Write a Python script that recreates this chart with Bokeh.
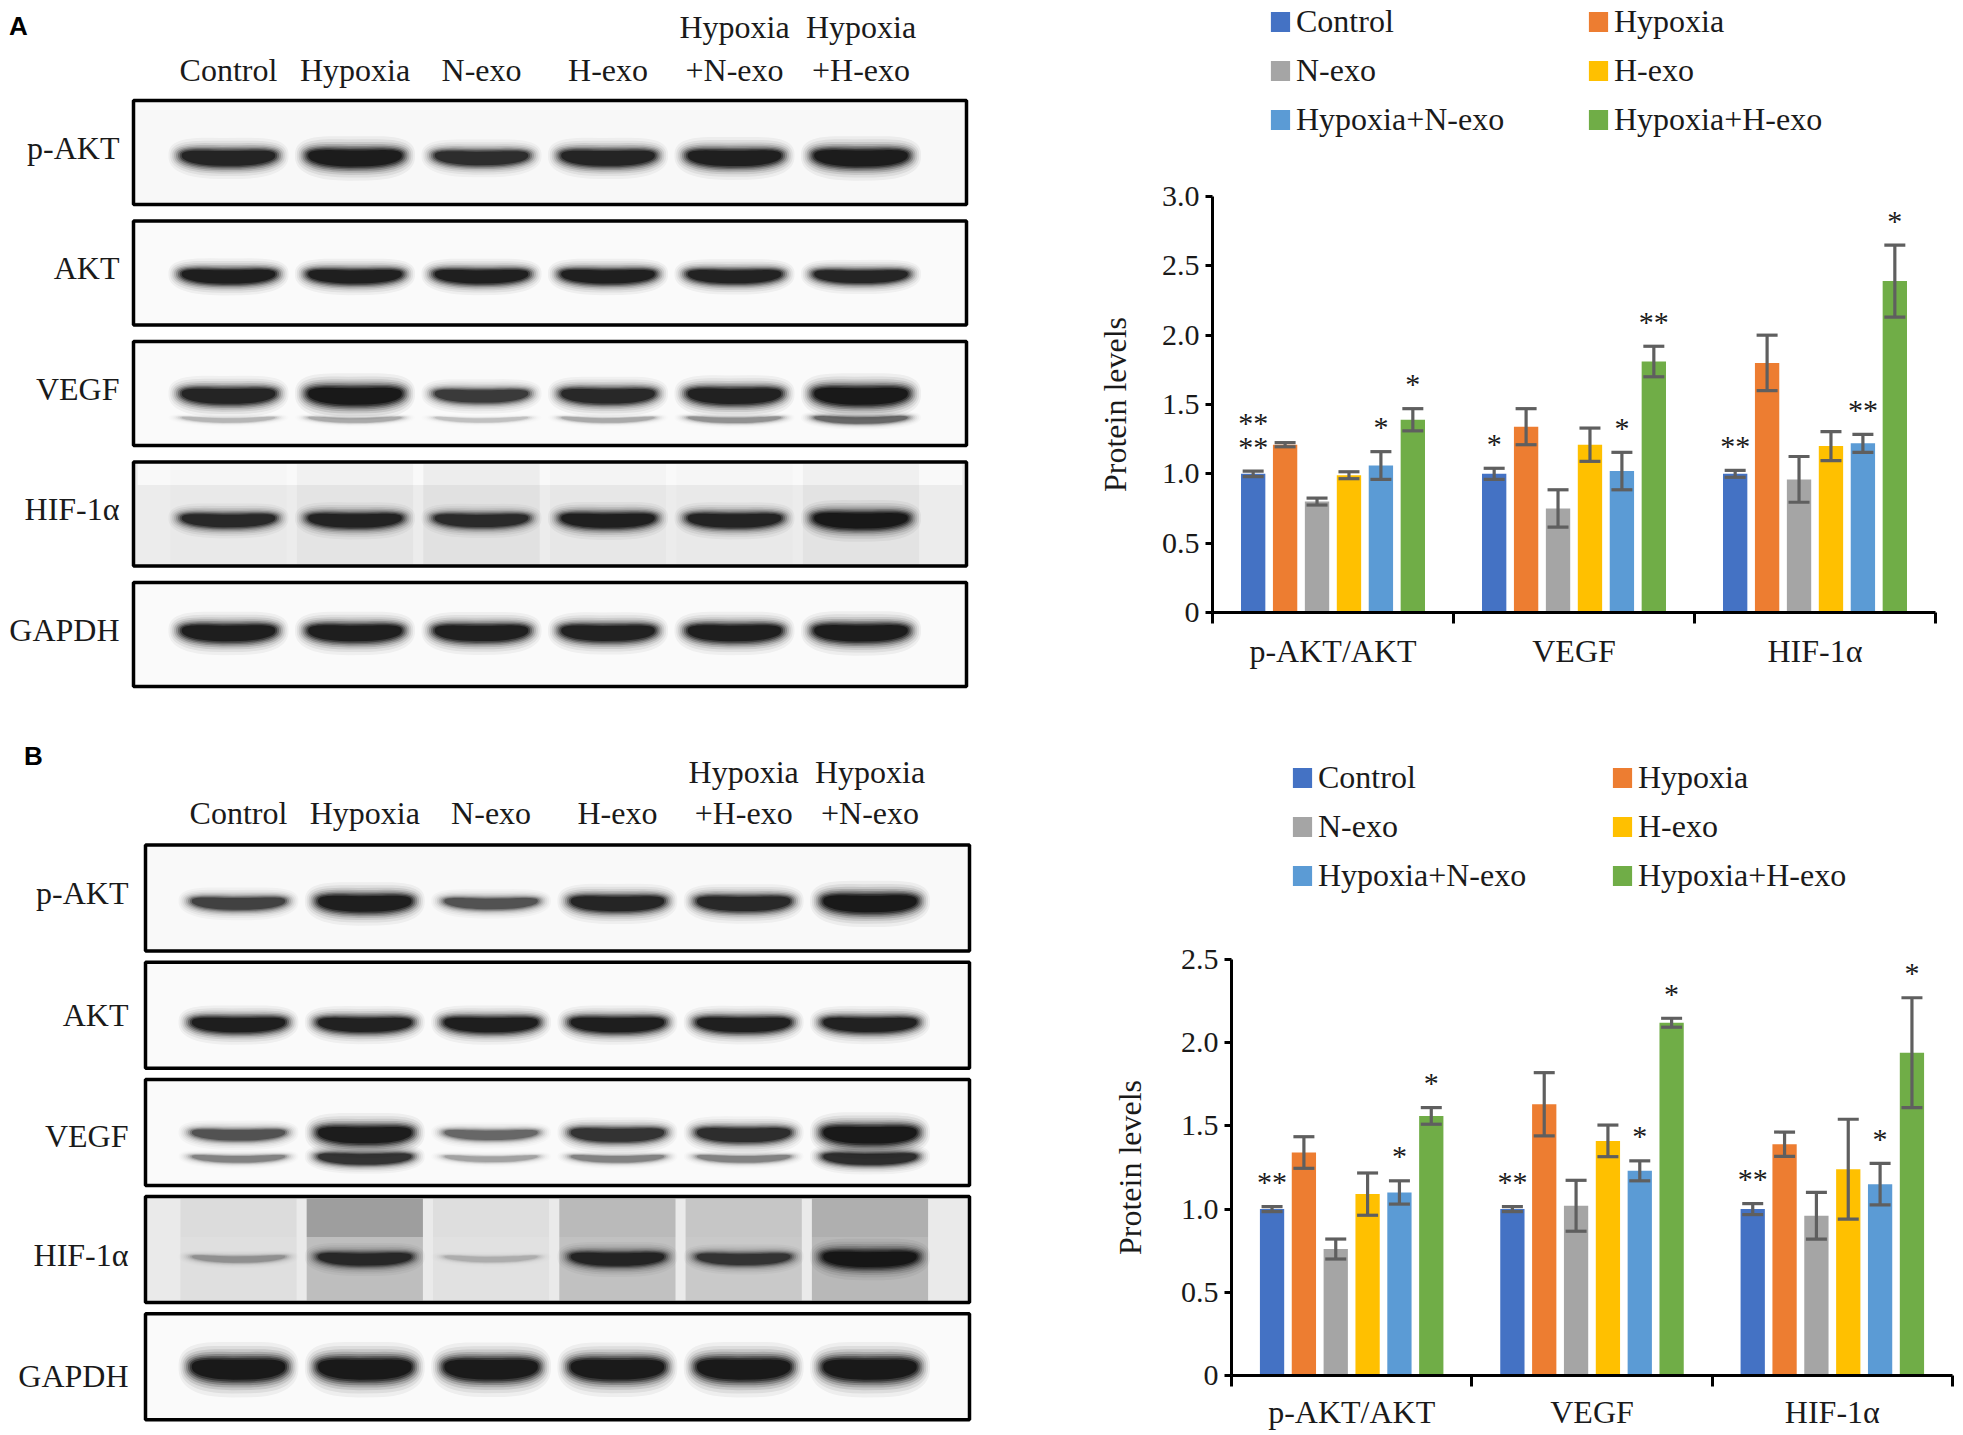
import numpy as np
from bokeh.plotting import figure
from bokeh.models import Range1d, FixedTicker, Legend, LegendItem, ColumnDataSource, Whisker, TeeHead
from bokeh.layouts import row, column
from bokeh.embed import file_html
from bokeh.resources import INLINE
from bokeh.core.properties import value

SERIF = "Liberation Serif"
SANS = "Liberation Sans"

# ---------------- data ----------------
groups = ["Control", "Hypoxia", "N-exo", "H-exo", "Hypoxia+N-exo", "Hypoxia+H-exo"]
group_colors = ["#4472C4", "#ED7D31", "#A5A5A5", "#FFC000", "#5B9BD5", "#70AD47"]
categories = ["p-AKT/AKT", "VEGF", "HIF-1α"]

# Panel A quantification
a_control = [1.00, 1.00, 1.00]
a_hypoxia = [1.21, 1.34, 1.80]
a_nexo = [0.80, 0.75, 0.96]
a_hexo = [0.99, 1.21, 1.20]
a_hyp_nexo = [1.06, 1.02, 1.22]
a_hyp_hexo = [1.39, 1.81, 2.39]
a_control_err = [0.02, 0.04, 0.025]
a_hypoxia_err = [0.015, 0.13, 0.20]
a_nexo_err = [0.025, 0.135, 0.165]
a_hexo_err = [0.025, 0.12, 0.105]
a_hyp_nexo_err = [0.10, 0.135, 0.065]
a_hyp_hexo_err = [0.08, 0.11, 0.26]
a_control_sig = ["**\n**", "*", "**"]
a_hyp_nexo_sig = ["*", "*", "**"]
a_hyp_hexo_sig = ["*", "**", "*"]
a_y_ticks = [0, 0.5, 1.0, 1.5, 2.0, 2.5, 3.0]
a_y_tick_labels = ["0", "0.5", "1.0", "1.5", "2.0", "2.5", "3.0"]

# Panel B quantification
b_control = [1.00, 1.00, 1.00]
b_hypoxia = [1.34, 1.63, 1.39]
b_nexo = [0.76, 1.02, 0.96]
b_hexo = [1.09, 1.41, 1.24]
b_hyp_nexo = [1.10, 1.23, 1.15]
b_hyp_hexo = [1.56, 2.12, 1.94]
b_control_err = [0.015, 0.015, 0.033]
b_hypoxia_err = [0.095, 0.19, 0.073]
b_nexo_err = [0.06, 0.153, 0.14]
b_hexo_err = [0.127, 0.095, 0.30]
b_hyp_nexo_err = [0.07, 0.06, 0.125]
b_hyp_hexo_err = [0.05, 0.027, 0.33]
b_control_sig = ["**", "**", "**"]
b_hyp_nexo_sig = ["*", "*", "*"]
b_hyp_hexo_sig = ["*", "*", "*"]
b_y_ticks = [0, 0.5, 1.0, 1.5, 2.0, 2.5]
b_y_tick_labels = ["0", "0.5", "1.0", "1.5", "2.0", "2.5"]

# Western blots: band density per lane (0 = none, 1 = saturated)
blot_rows = ["p-AKT", "AKT", "VEGF", "HIF-1α", "GAPDH"]
a_lanes = ["Control", "Hypoxia", "N-exo", "H-exo", "Hypoxia\n+N-exo", "Hypoxia\n+H-exo"]
b_lanes = ["Control", "Hypoxia", "N-exo", "H-exo", "Hypoxia\n+H-exo", "Hypoxia\n+N-exo"]

a_pakt = [0.85, 0.95, 0.75, 0.85, 0.90, 0.95]
a_akt = [0.92, 0.90, 0.90, 0.90, 0.86, 0.82]
a_vegf = [0.85, 1.00, 0.65, 0.80, 0.88, 1.00]
a_vegf_lower = [0.15, 0.18, 0.12, 0.18, 0.25, 0.40]
a_hif = [0.78, 0.85, 0.75, 0.88, 0.85, 1.00]
a_hif_smear = [0.02, 0.06, 0.10, 0.04, 0.02, 0.08]
a_hif_smear_top = [0.0, 0.0, 0.0, 0.0, 0.0, 0.0]
a_gapdh = [0.92, 0.92, 0.90, 0.88, 0.92, 0.95]

b_pakt = [0.60, 0.92, 0.50, 0.82, 0.80, 1.00]
b_akt = [0.92, 0.88, 0.92, 0.92, 0.90, 0.88]
b_vegf = [0.50, 0.95, 0.40, 0.70, 0.75, 1.00]
b_vegf_lower = [0.30, 0.70, 0.20, 0.30, 0.30, 0.75]
b_hif = [0.20, 0.72, 0.12, 0.78, 0.62, 1.00]
b_hif_smear = [0.10, 0.40, 0.08, 0.38, 0.30, 0.45]
b_hif_smear_top = [0.02, 0.35, 0.02, 0.06, 0.02, 0.10]
b_gapdh = [1.00, 1.00, 0.98, 0.98, 1.00, 1.00]

ERR_COLOR = "#5f5f5f"
TEXT_COLOR = "#1a1a1a"
INK = "#0e0e0e"

# band blur layers: (width in lanes, height factor, opacity factor)
LAYERS = [(0.95, 2.1, 0.05), (0.92, 1.8, 0.07), (0.89, 1.55, 0.10), (0.86, 1.35, 0.15),
          (0.83, 1.18, 0.22), (0.80, 1.03, 0.30), (0.77, 0.9, 0.45), (0.74, 0.75, 0.70)]
_T = np.linspace(0, 2 * np.pi, 60)
_UX = np.sign(np.cos(_T)) * np.abs(np.cos(_T)) ** 0.6
_UY = np.sign(np.sin(_T)) * np.abs(np.sin(_T)) ** 0.8


def gray(v):
    v = int(round(v))
    return "#%02x%02x%02x" % (v, v, v)


def base_fig(W, H, **kw):
    p = figure(width=W, height=H, output_backend="svg", toolbar_location=None,
               frame_align=False, **kw)
    p.grid.visible = False
    p.outline_line_color = None
    return p


def blot_panel(W, H, lane0, lane_px, row0, row_px, box_l, box_r, box_h, lanes, bands,
               row_bg, smears, top_strip, letter, letter_px, lane_base, lane_line,
               label_right, label_dy):
    p = base_fig(W, H,
                 x_range=Range1d(-lane0 / lane_px, (W - lane0) / lane_px),
                 y_range=Range1d(-(H - row0) / row_px, row0 / row_px),
                 x_axis_type=None, y_axis_type=None, min_border=0)
    n = len(lanes)
    nrow = len(blot_rows)
    bx = (box_l + box_r) / 2 / lane_px
    bw = (box_r - box_l) / lane_px
    bh = box_h / row_px
    ys_rows = [-r for r in range(nrow)]
    # membrane backgrounds
    p.rect(x=[bx] * nrow, y=ys_rows, width=bw, height=bh,
           fill_color=[gray(b) for b in row_bg], line_color=None)
    if top_strip is not None:
        r = top_strip
        p.rect(x=[bx], y=[-r + bh * 0.5 - bh * 0.11], width=bw * 0.99, height=bh * 0.22,
               fill_color="#f9f9f9", line_color=None)
    for r, sm, sm_top in smears:
        p.rect(x=list(range(n)), y=[-r] * n, width=0.92, height=bh * 0.96,
               fill_color=INK, fill_alpha=[0.5 * s for s in sm], line_color=None)
        p.rect(x=list(range(n)), y=[-r + bh * 0.3] * n, width=0.92, height=bh * 0.36,
               fill_color=INK, fill_alpha=[0.5 * s for s in sm_top], line_color=None)
    # bands
    for r, dens, off_px, scale in bands:
        cy = -r - off_px / row_px
        smile = 3.0 / row_px
        xs_all, ys_all, al_all = [], [], []
        for w, hf, k in LAYERS:
            for i, d in enumerate(dens):
                a = w / 2
                b = scale * (6 + 16 * d) * hf / row_px / 2
                xs_all.append(list(i + a * _UX))
                ys_all.append(list(cy + b * _UY + smile * _UX ** 2))
                al_all.append(min(1.0, k * d * 1.05))
        p.patches(xs=xs_all, ys=ys_all, fill_color=INK, fill_alpha=al_all, line_color=None)
    # box outlines
    p.rect(x=[bx] * nrow, y=ys_rows, width=bw, height=bh, fill_color=None,
           line_color="black", line_width=3.5)
    # row labels
    p.text(x=[label_right / lane_px] * nrow, y=ys_rows, text=blot_rows, text_align="right",
           text_baseline="middle", y_offset=label_dy, text_font=value(SERIF),
           text_font_size="32px", text_color=TEXT_COLOR)
    # lane labels (above the first membrane)
    bottom = [l.split("\n")[-1] for l in lanes]
    top = [l.split("\n")[0] if "\n" in l else "" for l in lanes]
    p.text(x=list(range(n)), y=[lane_base / row_px] * n, text=bottom, text_align="center",
           text_baseline="alphabetic", text_font=value(SERIF), text_font_size="32px",
           text_color=TEXT_COLOR)
    p.text(x=list(range(n)), y=[(lane_base + lane_line) / row_px] * n, text=top,
           text_align="center", text_baseline="alphabetic", text_font=value(SERIF),
           text_font_size="32px", text_color=TEXT_COLOR)
    p.text(x=[letter_px[0] / lane_px], y=[-letter_px[1] / row_px], text=[letter],
           text_align="center", text_baseline="middle", text_font=value(SANS),
           text_font_style="bold", text_font_size="26px", text_color="black")
    return p


def legend_fig(W, H, locs):
    p = base_fig(W, H, x_axis_type=None, y_axis_type=None, min_border=0,
                 x_range=Range1d(0, 1), y_range=Range1d(0, 1))
    rs = [p.vbar(x=[0.5], top=[0], bottom=0, width=0.1, fill_color=c, line_color=None)
          for c in group_colors]
    for cols, loc in zip([(0, 2, 4), (1, 3, 5)], locs):
        leg = Legend(items=[LegendItem(label=groups[j], renderers=[rs[j]]) for j in cols],
                     location=loc, orientation="vertical", glyph_width=24, glyph_height=25,
                     label_text_font=SERIF, label_text_font_size="32px",
                     label_text_color=TEXT_COLOR, label_standoff=4, spacing=12, padding=0,
                     margin=0, border_line_alpha=0, background_fill_alpha=0)
        p.add_layout(leg)
    return p


def bar_chart(means, errs, sigs, y_max, y_ticks, y_tick_labels, W, H, bl, br, bt, bb,
              x_standoff, label_standoff):
    p = base_fig(W, H, x_range=Range1d(-0.5, 2.5), y_range=Range1d(0, y_max),
                 min_border_left=bl, min_border_right=br, min_border_top=bt,
                 min_border_bottom=bb)
    sx, sy, st, so = [], [], [], []
    for j, g in enumerate(groups):
        xs = [c + (j - 2.5) * 0.1325 for c in range(len(categories))]
        lo = [m - e for m, e in zip(means[j], errs[j])]
        hi = [m + e for m, e in zip(means[j], errs[j])]
        src = ColumnDataSource(dict(x=xs, top=means[j], lo=lo, hi=hi))
        p.vbar(x="x", top="top", width=0.101, source=src, fill_color=group_colors[j],
               line_color=None)
        wk = Whisker(source=src, base="x", lower="lo", upper="hi", line_color=ERR_COLOR,
                     line_width=3.2, level="annotation",
                     upper_head=TeeHead(size=21, line_color=ERR_COLOR, line_width=3.2),
                     lower_head=TeeHead(size=21, line_color=ERR_COLOR, line_width=3.2))
        p.add_layout(wk)
        if sigs[j] is not None:
            for c in range(len(categories)):
                lines = sigs[j][c].split("\n")[::-1]
                for k, line in enumerate(lines):
                    sx.append(xs[c])
                    sy.append(hi[c])
                    st.append(line)
                    so.append(-(25 + 24 * k))
    p.text(x=sx, y=sy, text=st, y_offset=so, text_align="center", text_baseline="alphabetic",
           text_font=value(SERIF), text_font_size="30px", text_color=TEXT_COLOR)

    yax = p.yaxis[0]
    yax.ticker = FixedTicker(ticks=y_ticks)
    yax.major_label_overrides = {t: l for t, l in zip(y_ticks, y_tick_labels)}
    yax.major_tick_out = 7
    yax.major_tick_in = 0
    yax.minor_tick_out = 0
    yax.minor_tick_in = 0
    yax.major_tick_line_width = 3
    yax.axis_line_width = 3
    yax.axis_line_color = "black"
    yax.major_tick_line_color = "black"
    yax.major_label_standoff = 6
    yax.major_label_text_font = SERIF
    yax.major_label_text_font_size = "30px"
    yax.major_label_text_color = TEXT_COLOR
    yax.axis_label = "Protein levels"
    yax.axis_label_text_font = SERIF
    yax.axis_label_text_font_size = "32px"
    yax.axis_label_text_font_style = "normal"
    yax.axis_label_text_color = TEXT_COLOR
    yax.axis_label_standoff = label_standoff

    xax = p.xaxis[0]
    xax.ticker = FixedTicker(ticks=[0, 1, 2], minor_ticks=[-0.5, 0.5, 1.5, 2.5])
    xax.major_label_overrides = {i: c for i, c in enumerate(categories)}
    xax.major_tick_out = 0
    xax.major_tick_in = 0
    xax.minor_tick_out = 11
    xax.minor_tick_in = 0
    xax.minor_tick_line_width = 3
    xax.minor_tick_line_color = "black"
    xax.axis_line_width = 3
    xax.axis_line_color = "black"
    xax.major_label_standoff = x_standoff
    xax.major_label_text_font = SERIF
    xax.major_label_text_font_size = "32px"
    xax.major_label_text_color = TEXT_COLOR
    return p


a_means = [a_control, a_hypoxia, a_nexo, a_hexo, a_hyp_nexo, a_hyp_hexo]
a_errs = [a_control_err, a_hypoxia_err, a_nexo_err, a_hexo_err, a_hyp_nexo_err, a_hyp_hexo_err]
a_sigs = [a_control_sig, None, None, None, a_hyp_nexo_sig, a_hyp_hexo_sig]
b_means = [b_control, b_hypoxia, b_nexo, b_hexo, b_hyp_nexo, b_hyp_hexo]
b_errs = [b_control_err, b_hypoxia_err, b_nexo_err, b_hexo_err, b_hyp_nexo_err, b_hyp_hexo_err]
b_sigs = [b_control_sig, None, None, None, b_hyp_nexo_sig, b_hyp_hexo_sig]

blotA = blot_panel(
    1000, 728, lane0=228, lane_px=126.5, row0=152, row_px=120.5, box_l=-95, box_r=738,
    box_h=104, lanes=a_lanes,
    bands=[(0, a_pakt, 6, 1.0), (1, a_akt, 4, 0.85), (2, a_vegf_lower, 27, 0.7),
           (2, a_vegf, 3, 1.0), (3, a_hif, 7, 0.9), (4, a_gapdh, -1, 1.0)],
    row_bg=[248, 250, 250, 236, 250], smears=[(3, a_hif_smear, a_hif_smear_top)],
    top_strip=3, letter="A", letter_px=(-210, -127), lane_base=83, lane_line=43,
    label_right=-109, label_dy=[-5, -5, -5, -5, -5])

blotB = blot_panel(
    1000, 705, lane0=238, lane_px=126.3, row0=169.5, row_px=117.2, box_l=-93, box_r=731,
    box_h=106, lanes=b_lanes,
    bands=[(0, b_pakt, 6, 1.0), (1, b_akt, 10, 0.9), (2, b_vegf_lower, 27, 0.8),
           (2, b_vegf, 3, 1.0), (3, b_hif, 10, 0.9), (4, b_gapdh, 3, 1.2)],
    row_bg=[249, 250, 250, 234, 250], smears=[(3, b_hif_smear, b_hif_smear_top)],
    top_strip=None, letter="B", letter_px=(-205, -142), lane_base=85, lane_line=41,
    label_right=-110, label_dy=[-5, 0, 4, 5, 9])

legA = legend_fig(960, 150, locs=[(268, 12), (586, 12)])
chartA = bar_chart(a_means, a_errs, a_sigs, 3.0, a_y_ticks, a_y_tick_labels,
                   960, 578, bl=212, br=25, bt=46, bb=116, x_standoff=9, label_standoff=26)
legB = legend_fig(960, 177, locs=[(290, 11), (610, 11)])
chartB = bar_chart(b_means, b_errs, b_sigs, 2.5, b_y_ticks, b_y_tick_labels,
                   960, 528, bl=231, br=8, bt=54, bb=58, x_standoff=7, label_standoff=30)

layout = column(row(blotA, column(legA, chartA)), row(blotB, column(legB, chartB)))
open("out.html", "w").write(file_html(layout, INLINE))
